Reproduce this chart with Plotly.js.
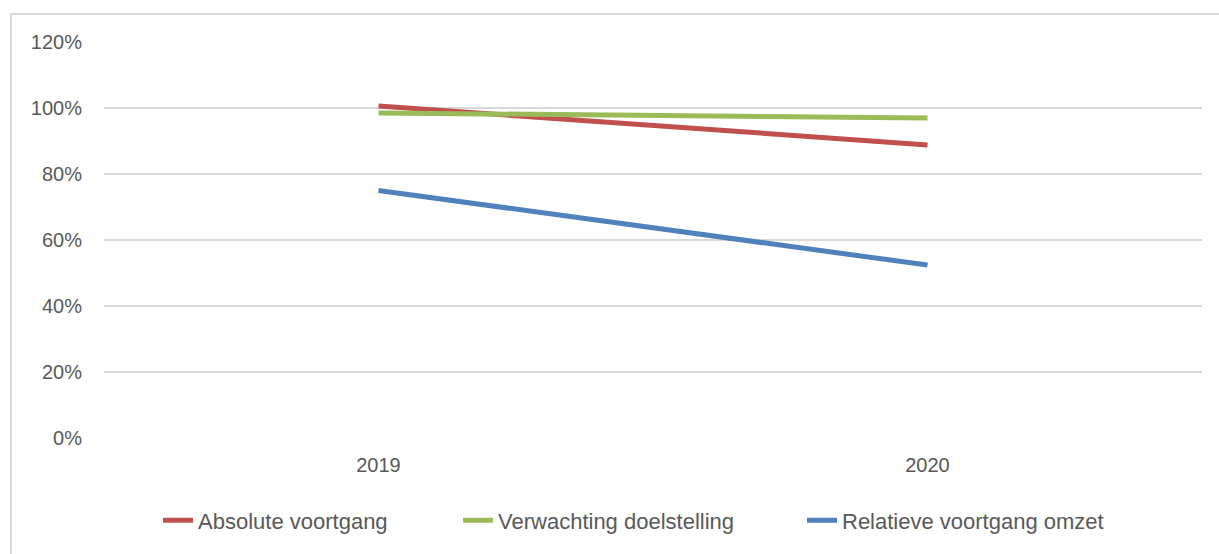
<!DOCTYPE html>
<html>
<head>
<meta charset="utf-8">
<script src="https://cdn.plot.ly/plotly-3.0.1.min.js"></script>
<style>
  html, body { margin: 0; padding: 0; background: #fff; overflow: hidden; }
  #frame { position: absolute; left: 10px; top: 13px; width: 1400px; height: 800px; border: 2px solid #d9d9d9; box-sizing: border-box; pointer-events: none; }
  #chart { position: absolute; left: 0; top: 0; width: 1219px; height: 554px; }
</style>
</head>
<body>
<div id="chart"></div>
<div id="frame"></div>
<script>
const years = ['2019', '2020'];
const absoluteVoortgang = [1.006, 0.888];
const verwachtingDoelstelling = [0.985, 0.970];
const relatieveVoortgangOmzet = [0.750, 0.524];
const seriesNames = ['Absolute voortgang', 'Verwachting doelstelling', 'Relatieve voortgang omzet'];
const yTickVals = [0, 0.2, 0.4, 0.6, 0.8, 1.0, 1.2];

const font = 'Liberation Sans, Arial, sans-serif';
const grey = '#595959';

function trace(name, y, color, legend) {
  return {
    x: years, y: y, name: name, type: 'scatter', mode: 'lines',
    line: { color: color, width: 5 }, legend: legend, hoverinfo: 'x+y+name'
  };
}

const data = [
  trace(seriesNames[0], absoluteVoortgang, '#C0504D', 'legend'),
  trace(seriesNames[1], verwachtingDoelstelling, '#9BBB59', 'legend2'),
  trace(seriesNames[2], relatieveVoortgangOmzet, '#4F81BD', 'legend3')
];

function leg(x) {
  return { x: x, y: -0.2085, xanchor: 'left', yanchor: 'middle', orientation: 'h',
    font: { family: font, size: 22, color: grey }, bgcolor: 'rgba(0,0,0,0)', borderwidth: 0 };
}

const layout = {
  width: 1219, height: 554,
  margin: { l: 104, r: 17, t: 42, b: 114 },
  paper_bgcolor: '#fff', plot_bgcolor: '#fff',
  showlegend: true,
  xaxis: {
    type: 'category', range: [-0.5, 1.5], showgrid: false, zeroline: false, showline: false,
    ticks: '', ticklabelstandoff: 13,
    tickfont: { family: font, size: 20, color: grey }
  },
  yaxis: {
    range: [0, 1.2], tickvals: yTickVals, tickformat: '.0%',
    showgrid: true, gridcolor: '#d9d9d9', gridwidth: 1.5,
    zeroline: false, showline: false, ticks: '', ticklabelstandoff: 21,
    tickfont: { family: font, size: 20, color: grey }
  },
  legend: leg(0.0492),
  legend2: leg(0.3224),
  legend3: leg(0.6357)
};

Plotly.newPlot('chart', data, layout, { displayModeBar: false, staticPlot: false });
</script>
</body>
</html>
